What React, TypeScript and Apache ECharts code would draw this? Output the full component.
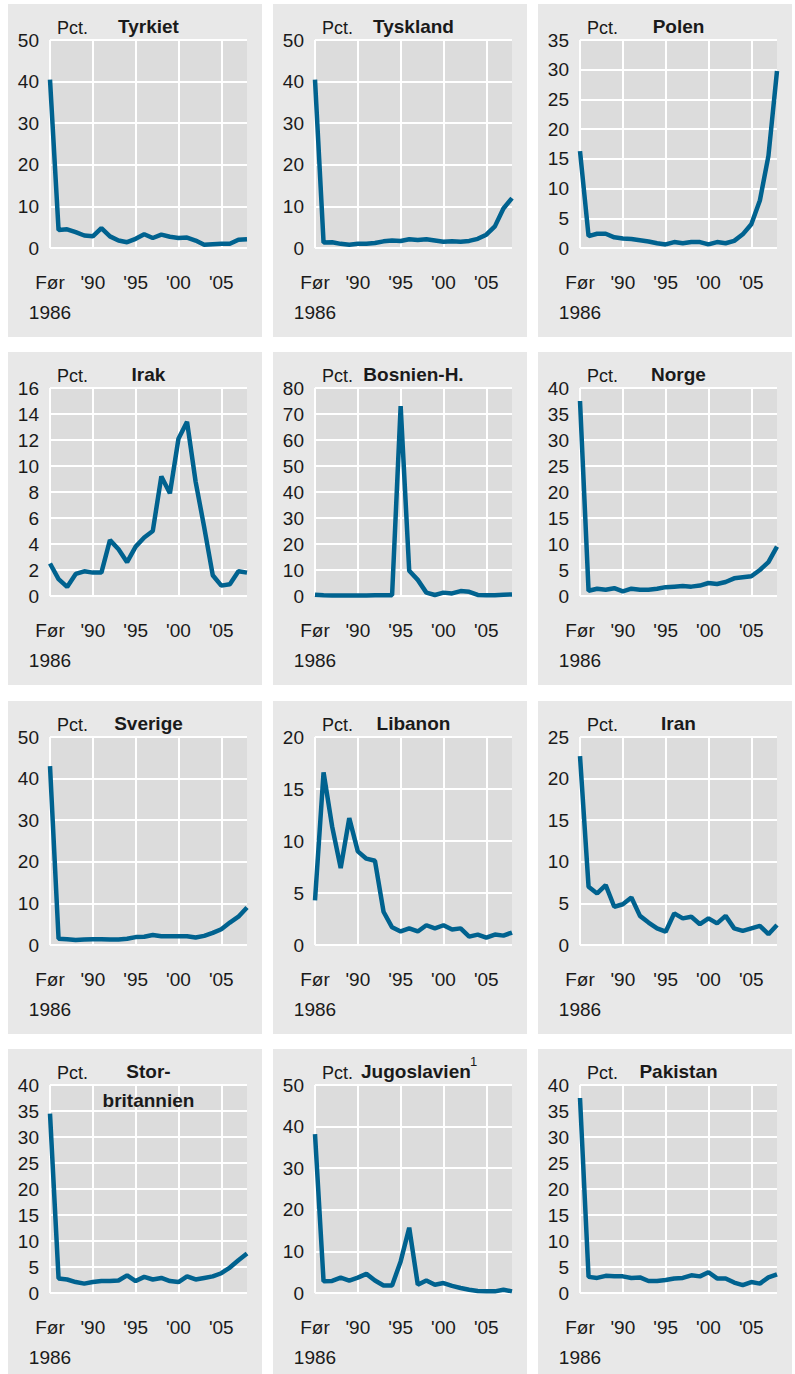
import React, { useEffect, useRef } from "react";
import * as echarts from "echarts";

const categories = [
  "Før 1986", "1986", "1987", "1988", "1989", "1990", "1991", "1992", "1993", "1994", "1995", "1996",
  "1997", "1998", "1999", "2000", "2001", "2002", "2003", "2004", "2005", "2006", "2007", "2008",
];

const tyrkiet = [40.5, 4.3, 4.5, 3.8, 3.0, 2.8, 4.8, 2.8, 1.8, 1.4, 2.2, 3.3, 2.4, 3.2, 2.7, 2.4, 2.5, 1.8, 0.8, 0.9, 1.0, 1.0, 2.0, 2.1];
const tyskland = [40.5, 1.3, 1.4, 1.0, 0.8, 1.0, 1.0, 1.2, 1.6, 1.8, 1.7, 2.1, 1.9, 2.1, 1.8, 1.5, 1.6, 1.5, 1.7, 2.2, 3.2, 5.2, 9.5, 12.0];
const polen = [16.3, 2.0, 2.4, 2.4, 1.8, 1.6, 1.5, 1.3, 1.1, 0.8, 0.6, 1.0, 0.8, 1.0, 1.0, 0.6, 1.0, 0.8, 1.2, 2.3, 4.0, 8.0, 15.5, 29.8];
const irak = [2.5, 1.3, 0.7, 1.7, 1.9, 1.8, 1.8, 4.3, 3.6, 2.6, 3.8, 4.5, 5.0, 9.2, 7.9, 12.1, 13.4, 8.8, 5.3, 1.6, 0.8, 0.9, 1.9, 1.8];
const bosnien = [0.5, 0.3, 0.2, 0.2, 0.2, 0.2, 0.2, 0.3, 0.3, 0.3, 73.0, 9.7, 6.2, 1.3, 0.4, 1.3, 1.0, 1.9, 1.6, 0.4, 0.3, 0.3, 0.5, 0.6];
const norge = [37.5, 1.0, 1.4, 1.2, 1.5, 0.9, 1.4, 1.2, 1.2, 1.4, 1.7, 1.8, 1.9, 1.8, 2.0, 2.5, 2.3, 2.7, 3.4, 3.6, 3.8, 5.0, 6.5, 9.5];
const sverige = [43.0, 1.5, 1.4, 1.2, 1.3, 1.4, 1.4, 1.3, 1.3, 1.5, 1.9, 2.0, 2.4, 2.1, 2.1, 2.1, 2.1, 1.8, 2.2, 2.9, 3.8, 5.4, 6.8, 9.0];
const libanon = [4.3, 16.6, 11.4, 7.4, 12.2, 9.0, 8.3, 8.1, 3.2, 1.7, 1.3, 1.6, 1.3, 1.9, 1.6, 1.9, 1.5, 1.6, 0.8, 1.0, 0.7, 1.0, 0.9, 1.2];
const iran = [22.7, 7.0, 6.2, 7.2, 4.6, 4.9, 5.7, 3.5, 2.7, 2.0, 1.6, 3.8, 3.2, 3.4, 2.5, 3.2, 2.6, 3.5, 2.0, 1.7, 2.0, 2.3, 1.3, 2.4];
const storbritannien = [34.5, 2.8, 2.6, 2.1, 1.8, 2.1, 2.3, 2.3, 2.4, 3.4, 2.3, 3.1, 2.6, 2.9, 2.3, 2.1, 3.2, 2.6, 2.9, 3.2, 3.8, 4.9, 6.3, 7.6];
const jugoslavien = [38.2, 2.8, 2.9, 3.7, 3.0, 3.7, 4.6, 3.0, 1.8, 1.8, 7.6, 15.7, 2.0, 3.0, 2.0, 2.4, 1.7, 1.2, 0.8, 0.5, 0.4, 0.4, 0.8, 0.4];
const pakistan = [37.5, 3.1, 2.9, 3.3, 3.2, 3.2, 2.9, 3.0, 2.3, 2.3, 2.5, 2.8, 2.9, 3.4, 3.2, 4.0, 2.8, 2.8, 2.0, 1.5, 2.1, 1.8, 3.0, 3.6];

const panels = [
  { title: "Tyrkiet", values: tyrkiet, max: 50, interval: 10 },
  { title: "Tyskland", values: tyskland, max: 50, interval: 10 },
  { title: "Polen", values: polen, max: 35, interval: 5 },
  { title: "Irak", values: irak, max: 16, interval: 2 },
  { title: "Bosnien-H.", values: bosnien, max: 80, interval: 10 },
  { title: "Norge", values: norge, max: 40, interval: 5 },
  { title: "Sverige", values: sverige, max: 50, interval: 10 },
  { title: "Libanon", values: libanon, max: 20, interval: 5 },
  { title: "Iran", values: iran, max: 25, interval: 5 },
  { title: "Stor-\nbritannien", values: storbritannien, max: 40, interval: 5 },
  { title: "Jugoslavien", sup: "1", values: jugoslavien, max: 50, interval: 10 },
  { title: "Pakistan", values: pakistan, max: 40, interval: 5 },
];

const W = 795;
const H = 1374;
const colX = [8, 273, 538];
const rowY = [4, 352, 701, 1049];
const PW = 254;
const PH = 333;
const GL = 42;
const GT = 36;
const GW = 197;
const GH = 208;

const FONT = "'Liberation Sans', Arial, sans-serif";
const TEXT = "#1a1a1a";
const LINE = "#00628f";

export default function App() {
  const ref = useRef<HTMLDivElement>(null);

  useEffect(() => {
    if (!ref.current) return;
    const chart = echarts.init(ref.current, undefined, { renderer: "svg", width: W, height: H });

    const grids: any[] = [];
    const xAxes: any[] = [];
    const yAxes: any[] = [];
    const series: any[] = [];
    const graphics: any[] = [];

    panels.forEach((p, i) => {
      const c = i % 3;
      const r = Math.floor(i / 3);
      const px = colX[c];
      const py = rowY[r];
      grids.push({
        left: px + GL,
        top: py + GT,
        width: GW,
        height: GH,
        show: true,
        backgroundColor: "#dcdcdc",
        borderWidth: 0,
      });
      xAxes.push({
        type: "category",
        gridIndex: i,
        data: categories,
        boundaryGap: false,
        axisLine: { show: false },
        axisTick: { show: false },
        axisLabel: {
          interval: (idx: number) => idx % 5 === 0,
          formatter: (v: string, idx: number) => (idx === 0 ? "Før\n1986" : "'" + v.slice(2)),
          fontSize: 19,
          lineHeight: 30,
          margin: 19,
          color: TEXT,
          fontFamily: FONT,
        },
        splitLine: {
          show: true,
          interval: (idx: number) => idx % 5 === 0,
          lineStyle: { color: "#ffffff", width: 2 },
        },
      });
      yAxes.push({
        type: "value",
        gridIndex: i,
        min: 0,
        max: p.max,
        interval: p.interval,
        axisLine: { show: false },
        axisTick: { show: false },
        axisLabel: { fontSize: 19, color: TEXT, margin: 11, fontFamily: FONT },
        splitLine: { show: true, lineStyle: { color: "#ffffff", width: 2 } },
      });
      series.push({
        type: "line",
        xAxisIndex: i,
        yAxisIndex: i,
        data: p.values,
        symbol: "none",
        showSymbol: false,
        lineStyle: { color: LINE, width: 4.5 },
        z: 3,
      });

      graphics.push({
        type: "text",
        x: px + 49,
        y: py + 24,
        z: 100,
        style: {
          text: "Pct.",
          font: `18px ${FONT}`,
          fill: TEXT,
          align: "left",
          verticalAlign: "middle",
        },
      });
      if (p.title.includes("\n")) {
        graphics.push({
          type: "text",
          x: px + GL + GW / 2,
          y: py + 8,
          z: 100,
          style: {
            text: p.title,
            font: `bold 19px ${FONT}`,
            lineHeight: 29,
            fill: TEXT,
            align: "center",
            verticalAlign: "top",
          },
        });
      } else if (p.sup) {
        graphics.push({
          type: "text",
          x: px + 88,
          y: py + 22,
          z: 100,
          style: {
            text: p.title,
            font: `bold 19px ${FONT}`,
            fill: TEXT,
            align: "left",
            verticalAlign: "middle",
          },
        });
        graphics.push({
          type: "text",
          x: px + 197,
          y: py + 12,
          z: 100,
          style: {
            text: p.sup,
            font: `13px ${FONT}`,
            fill: TEXT,
            align: "left",
            verticalAlign: "middle",
          },
        });
      } else {
        graphics.push({
          type: "text",
          x: px + GL + GW / 2,
          y: py + 22,
          z: 100,
          style: {
            text: p.title,
            font: `bold 19px ${FONT}`,
            fill: TEXT,
            align: "center",
            verticalAlign: "middle",
          },
        });
      }
    });

    chart.setOption({
      animation: false,
      backgroundColor: "transparent",
      grid: grids,
      xAxis: xAxes,
      yAxis: yAxes,
      series,
      graphic: { elements: graphics },
    });

    return () => {
      chart.dispose();
    };
  }, []);

  const bgs = panels.map((_, i) => {
    const c = i % 3;
    const r = Math.floor(i / 3);
    const top = rowY[r];
    const height = Math.min(PH, H - top);
    return (
      <div
        key={i}
        style={{
          position: "absolute",
          left: colX[c],
          top,
          width: PW,
          height,
          background: "#e8e8e8",
        }}
      />
    );
  });

  return (
    <div style={{ position: "absolute", left: 0, top: 0, width: W, height: H, background: "#ffffff", overflow: "hidden" }}>
      {bgs}
      <div ref={ref} style={{ position: "absolute", left: 0, top: 0, width: W, height: H }} />
    </div>
  );
}
